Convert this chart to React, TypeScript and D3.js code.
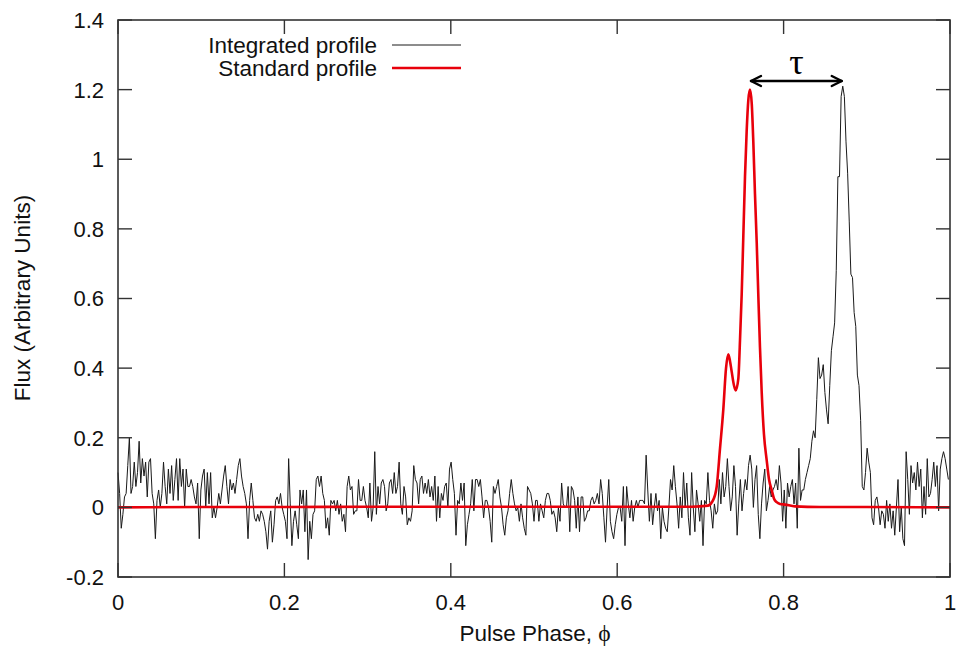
import React from 'react';
import * as d3 from 'd3';

// ---------- data ----------
const phaseTicks = [0, 0.2, 0.4, 0.6, 0.8, 1];
const fluxTicks = [-0.2, 0, 0.2, 0.4, 0.6, 0.8, 1, 1.2, 1.4];

// Integrated profile, 512 phase bins (in 6 chunks)
const integratedA = [
  0.10, 0.04, -0.06, -0.02, 0.03, 0.04, 0.12, 0.20, 0.04, 0.06, 0.13, 0.06, 0.10, 0.19, 0.07, 0.14, 0.09, 0.13, 0.03, 0.13,
  0.14, 0.04, 0.01, -0.09, 0.02, 0.05, 0.00, 0.04, 0.13, 0.06, 0.01, 0.11, 0.04, 0.12, 0.02, 0.08, 0.14, 0.02, 0.14, 0.06,
  0.11, 0.00, 0.11, 0.06, 0.06, 0.08, 0.06, 0.03, 0.01, 0.07, -0.09, 0.05, 0.09, 0.11, 0.00, 0.10, 0.01, 0.10, -0.03, 0.00,
  -0.03, 0.00, 0.04, 0.01, 0.05, 0.09, 0.12, 0.06, 0.01, 0.08, 0.05, 0.07, 0.04, 0.08, 0.12, 0.14, 0.09, 0.06, 0.04, 0.01,
  -0.09, 0.02, 0.07, 0.02, -0.03, -0.04,
];
const integratedB = [
  -0.02, -0.04, -0.01, -0.02, -0.04, -0.07, -0.12, -0.04, -0.01, -0.10, -0.05, 0.02, 0.03, 0.01, 0.04, 0.00, -0.02, -0.04, -0.09, 0.14,
  0.01, -0.11, -0.04, -0.01, -0.05, -0.09, 0.05, 0.01, 0.05, -0.07, 0.05, -0.15, -0.04, -0.09, -0.02, -0.01, 0.08, 0.09, 0.06, 0.09,
  0.04, 0.02, -0.06, -0.03, -0.08, 0.02, 0.01, 0.02, -0.01, 0.02, -0.02, 0.01, -0.04, -0.02, -0.07, 0.06, 0.09, 0.05, 0.06, -0.02,
  -0.01, -0.01, 0.08, 0.02, 0.02, 0.06, 0.02, 0.00, -0.03, 0.07, -0.04, 0.00, 0.16, -0.02, 0.06, 0.01, 0.07, 0.08, 0.06, -0.01,
  0.01, 0.07, 0.08, 0.04, 0.10, 0.04,
];
const integratedC = [
  0.06, 0.13, 0.01, -0.02, 0.06, 0.03, -0.05, -0.03, -0.04, -0.01, 0.12, 0.08, 0.07, 0.01, 0.08, 0.09, 0.04, 0.07, 0.04, 0.08,
  0.03, 0.06, 0.02, 0.09, -0.04, 0.06, -0.03, 0.04, 0.02, 0.06, 0.07, 0.00, 0.11, 0.13, 0.08, 0.04, -0.08, 0.02, 0.01, 0.07,
  0.02, 0.07, -0.11, -0.05, -0.02, 0.01, 0.08, -0.01, 0.08, 0.08, 0.06, 0.08, 0.03, -0.03, 0.02, 0.02, 0.00, -0.04, -0.10, 0.06,
  0.04, 0.06, 0.08, 0.03, 0.00, -0.05, -0.08, -0.03, -0.01, 0.04, 0.08, 0.04, 0.01, -0.01, 0.00, -0.04, 0.01, -0.03, -0.06, -0.08,
  0.06, 0.05, 0.04, 0.01, -0.04, 0.02,
];
const integratedD = [
  0.02, -0.04, 0.01, -0.01, -0.03, 0.02, 0.04, 0.04, 0.02, -0.02, -0.01, -0.03, -0.07, 0.00, -0.04, 0.07, 0.01, 0.00, 0.00, 0.06,
  -0.07, 0.06, 0.05, 0.02, -0.06, 0.03, -0.07, 0.03, 0.03, -0.04, -0.03, -0.01, -0.01, 0.02, 0.03, 0.01, 0.02, 0.04, 0.01, 0.08,
  0.04, -0.03, -0.10, 0.00, 0.08, -0.04, -0.07, -0.09, -0.05, -0.02, 0.00, 0.00, -0.04, 0.06, -0.11, 0.06, 0.01, -0.03, 0.02, -0.04,
  0.00, 0.02, 0.00, 0.02, 0.02, 0.02, 0.01, 0.15, 0.05, -0.04, 0.04, -0.05, 0.00, 0.04, -0.01, 0.02, -0.09, 0.00, -0.04, -0.06,
  -0.07, 0.00, 0.08, 0.05, 0.12, 0.06,
];
const integratedE = [
  0.01, -0.06, 0.03, -0.03, 0.10, 0.00, 0.07, -0.03, -0.08, 0.10, 0.00, -0.07, 0.05, 0.01, -0.04, 0.02, -0.11, 0.02, 0.01, 0.10,
  0.02, -0.01, -0.06, 0.01, -0.02, -0.01, 0.08, 0.01, 0.10, 0.03, 0.06, 0.14, 0.06, -0.01, 0.03, 0.12, 0.06, -0.08, 0.01, 0.08,
  -0.01, 0.04, 0.08, 0.05, 0.12, 0.15, 0.11, 0.00, 0.08, 0.12, -0.02, -0.09, 0.01, 0.07, 0.11, -0.01, 0.02, 0.06, 0.03, 0.05,
  0.06, 0.08, 0.05, 0.12, 0.07, -0.04, 0.05, -0.06, 0.07, 0.03, 0.06, 0.08, 0.01, 0.07, -0.06, 0.17, 0.02, 0.05, 0.05, 0.08,
  0.10, 0.12, 0.14, 0.19, 0.22, 0.20,
];
const integratedF = [
  0.31, 0.43, 0.37, 0.38, 0.41, 0.33, 0.28, 0.24, 0.35, 0.45, 0.49, 0.53, 0.68, 0.95, 0.95, 1.18, 1.21, 1.18, 1.05, 0.96,
  0.82, 0.67, 0.66, 0.56, 0.52, 0.38, 0.35, 0.25, 0.06, 0.05, 0.10, 0.17, 0.13, 0.10, -0.03,
  -0.05, 0.02, 0.03, 0.00, -0.05, -0.01, -0.02, -0.06, 0.02, -0.04, 0.01, -0.06, -0.01, -0.08, 0.00, 0.08, -0.07, 0.00, -0.09, -0.11,
  0.16, 0.08, -0.02, 0.12, 0.07, 0.10, 0.05, 0.13, 0.06, 0.11, -0.03, 0.06, -0.02, 0.14, 0.03, 0.04, 0.08, 0.13, 0.06, 0.12,
  -0.01, 0.11, 0.14, 0.16, 0.14, 0.11, 0.08,
];
const integratedFlux = [
  ...integratedA, ...integratedB, ...integratedC, ...integratedD, ...integratedE, ...integratedF,
];

// Standard (template) profile: phase / flux pairs
const standardPhase = [
  0, 0.1, 0.2, 0.3, 0.4, 0.5, 0.6, 0.69, 0.7091, 0.7151, 0.7196, 0.7236, 0.7275, 0.7308, 0.7335, 0.7356, 0.7376, 0.7404,
  0.7424, 0.7456, 0.7476, 0.7496, 0.7516, 0.7536, 0.7556, 0.7576, 0.7596, 0.7617, 0.7636, 0.7656, 0.7677, 0.7696, 0.7716,
  0.7737, 0.7764, 0.7797, 0.7825, 0.7857, 0.7885, 0.7917, 0.7957, 0.8017, 0.8137, 0.8438, 0.9, 1.0,
];
const standardFlux = [
  0.0, 0.001, 0.001, 0.002, 0.002, 0.002, 0.002, 0.002, 0.005, 0.02, 0.06, 0.17, 0.28, 0.40, 0.44, 0.42, 0.39, 0.35,
  0.336, 0.37, 0.48, 0.61, 0.78, 0.95, 1.08, 1.17, 1.20, 1.16, 1.05, 0.90, 0.76, 0.61, 0.46,
  0.33, 0.21, 0.135, 0.08, 0.05, 0.025, 0.015, 0.01, 0.008, 0.003, 0.001, 0.001, 0.0,
];

const seriesNames = ['Integrated profile', 'Standard profile'];
const xTitle = 'Pulse Phase, ';
const yTitle = 'Flux (Arbitrary Units)';
const shiftLabel = 'τ';

// ---------- chart ----------
const SANS = '"Liberation Sans", Arial, Helvetica, sans-serif';
const SERIF = '"Liberation Serif", "Times New Roman", serif';

export default function App() {
  const W = 957;
  const H = 647;
  const x = d3.scaleLinear().domain([0, 1]).range([118, 950]);
  const y = d3.scaleLinear().domain([-0.2, 1.4]).range([577, 20]);
  const [x0, x1] = x.range();
  const [y0, y1] = y.range();
  const tickLen = 14;
  const fmt = (v: number) => String(Math.round(v * 10) / 10);

  const intPath = d3
    .line<number>()
    .x((_, i) => x(i / integratedFlux.length))
    .y((d) => y(d))(integratedFlux) as string;

  const stdPath = d3
    .line<number>()
    .x((_, i) => x(standardPhase[i]))
    .y((d) => y(d))
    .curve(d3.curveMonotoneX)(standardFlux) as string;

  // arrow between the two peaks
  const stdPeakIdx = d3.maxIndex(standardFlux);
  const intPeakIdx = d3.maxIndex(integratedFlux);
  const ax0 = x(standardPhase[stdPeakIdx]);
  const ax1 = x(intPeakIdx / integratedFlux.length);
  const ay = 81;

  const tickFont = 22;
  const labelFont = 22.5;

  return (
    <svg
      width={W}
      height={H}
      style={{ position: 'fixed', left: 0, top: 0, background: '#fff' }}
    >
      <rect x={0} y={0} width={W} height={H} fill="#fff" />
      {/* data */}
      <path d={intPath} fill="none" stroke="#1a1a1a" strokeWidth={1} strokeLinejoin="round" />
      <path d={stdPath} fill="none" stroke="#e8000b" strokeWidth={2.6} strokeLinejoin="round" />

      {/* ticks */}
      {fluxTicks.map((t) => (
        <g key={'y' + t}>
          <line x1={x0} x2={x0 + tickLen} y1={y(t)} y2={y(t)} stroke="#333" strokeWidth={1.4} />
          <line x1={x1} x2={x1 - tickLen} y1={y(t)} y2={y(t)} stroke="#333" strokeWidth={1.4} />
          <text
            x={x0 - 14}
            y={y(t)}
            dy="0.36em"
            textAnchor="end"
            fontFamily={SANS}
            fontSize={tickFont}
            fill="#111"
          >
            {fmt(t)}
          </text>
        </g>
      ))}
      {phaseTicks.map((t) => (
        <g key={'x' + t}>
          <line x1={x(t)} x2={x(t)} y1={y0} y2={y0 - tickLen} stroke="#333" strokeWidth={1.4} />
          <line x1={x(t)} x2={x(t)} y1={y1} y2={y1 + tickLen} stroke="#333" strokeWidth={1.4} />
          <text x={x(t)} y={610} textAnchor="middle" fontFamily={SANS} fontSize={tickFont} fill="#111">
            {fmt(t)}
          </text>
        </g>
      ))}

      {/* frame */}
      <rect x={x0} y={y1} width={x1 - x0} height={y0 - y1} fill="none" stroke="#333" strokeWidth={1.6} />

      {/* axis titles */}
      <text x={535} y={641} textAnchor="middle" fontFamily={SANS} fontSize={labelFont} fill="#111">
        {xTitle}
        <tspan fontFamily={SERIF} fontSize={labelFont + 1}>ϕ</tspan>
      </text>
      <text
        transform={`translate(30, 298) rotate(-90)`}
        textAnchor="middle"
        fontFamily={SANS}
        fontSize={labelFont}
        fill="#111"
      >
        {yTitle}
      </text>

      {/* legend */}
      <text x={377} y={53} textAnchor="end" fontFamily={SANS} fontSize={labelFont} fill="#111">
        {seriesNames[0]}
      </text>
      <line x1={392} x2={461} y1={45} y2={45} stroke="#1a1a1a" strokeWidth={1} />
      <text x={377} y={76} textAnchor="end" fontFamily={SANS} fontSize={labelFont} fill="#111">
        {seriesNames[1]}
      </text>
      <line x1={392} x2={461} y1={68} y2={68} stroke="#e8000b" strokeWidth={2.6} />

      {/* tau arrow */}
      <g stroke="#000" strokeWidth={2.4} fill="none" strokeLinecap="round" strokeLinejoin="round">
        <line x1={ax0 + 1} x2={ax1 - 1} y1={ay} y2={ay} />
        <path d={`M${ax0 + 11},${ay - 5} L${ax0 + 1},${ay} L${ax0 + 11},${ay + 5}`} />
        <path d={`M${ax1 - 11},${ay - 5} L${ax1 - 1},${ay} L${ax1 - 11},${ay + 5}`} />
      </g>
      <text x={(ax0 + ax1) / 2} y={74} textAnchor="middle" fontFamily={SERIF} fontSize={36} fill="#000">
        {shiftLabel}
      </text>
    </svg>
  );
}
